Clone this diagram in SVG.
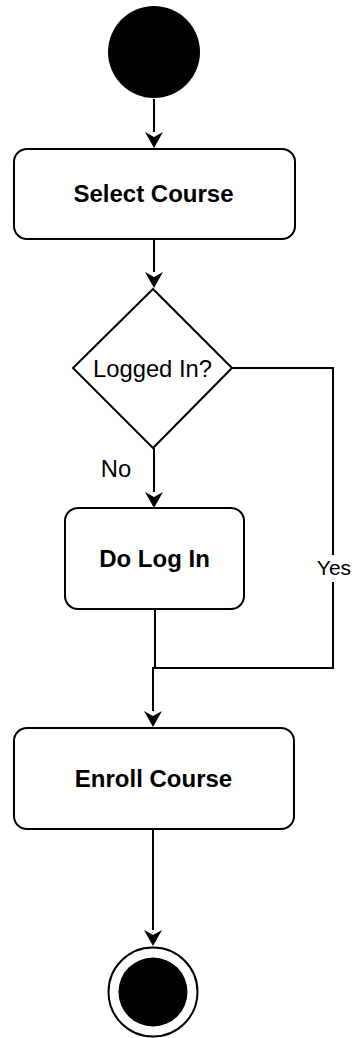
<svg xmlns="http://www.w3.org/2000/svg" width="356" height="1038" viewBox="0 0 356 1038">
  <style>
    .shape { fill: #ffffff; stroke: #000000; stroke-width: 2; }
    .edge { fill: none; stroke: #000000; stroke-width: 2; }
    .head { fill: #000000; }
    .title { font-family: "Liberation Sans", Arial, sans-serif; font-size: 24px; font-weight: bold; fill: #000000; text-anchor: middle; }
    .label { font-family: "Liberation Sans", Arial, sans-serif; font-size: 23.8px; fill: #000000; text-anchor: middle; }
    .small { font-family: "Liberation Sans", Arial, sans-serif; font-size: 21px; fill: #000000; text-anchor: middle; }
  </style>
  <rect width="356" height="1038" fill="#ffffff"/>

  <!-- connectors -->
  <g id="connectors">
    <path class="edge" d="M154 99 V132"/>
    <path class="head" d="M145 132 L154 137 L163 132 L154 148 Z"/>

    <path class="edge" d="M154 239 V272"/>
    <path class="head" d="M145 272 L154 277 L163 272 L154 288 Z"/>

    <!-- No branch -->
    <path class="edge" d="M154 448 V492"/>
    <path class="head" d="M145 492 L154 497 L163 492 L154 508 Z"/>

    <!-- Do Log In to merge -->
    <path class="edge" d="M155 609 V668"/>

    <!-- Yes branch -->
    <path class="edge" d="M232 368 H333 V555"/>
    <path class="edge" d="M333 582 V668 H153 V711"/>
    <path class="head" d="M144 711 L153 716 L162 711 L153 727 Z"/>

    <path class="edge" d="M153 829 V930"/>
    <path class="head" d="M144 930 L153 935 L162 930 L153 946 Z"/>

    <text class="label" x="116" y="477">No</text>
    <text class="small" x="334" y="575">Yes</text>
  </g>

  <!-- initial state -->
  <g id="start">
    <circle cx="154" cy="52" r="46" fill="#000000"/>
  </g>

  <g id="select-course">
    <rect class="shape" x="14" y="149" width="281" height="90" rx="13" ry="13"/>
    <text class="title" x="153.5" y="202">Select Course</text>
  </g>

  <g id="logged-in">
    <path class="shape" d="M153 289 L232 368 L153 448 L73 368 Z"/>
    <text class="label" x="152.5" y="377">Logged In?</text>
  </g>

  <g id="do-log-in">
    <rect class="shape" x="65" y="508" width="179" height="101" rx="13" ry="13"/>
    <text class="title" x="154.5" y="567">Do Log In</text>
  </g>

  <g id="enroll-course">
    <rect class="shape" x="14" y="728" width="280" height="101" rx="13" ry="13"/>
    <text class="title" x="153.5" y="787">Enroll Course</text>
  </g>

  <!-- final state -->
  <g id="end">
    <circle class="shape" cx="153" cy="992" r="44.5"/>
    <circle cx="153" cy="992" r="34.5" fill="#000000"/>
  </g>
</svg>
